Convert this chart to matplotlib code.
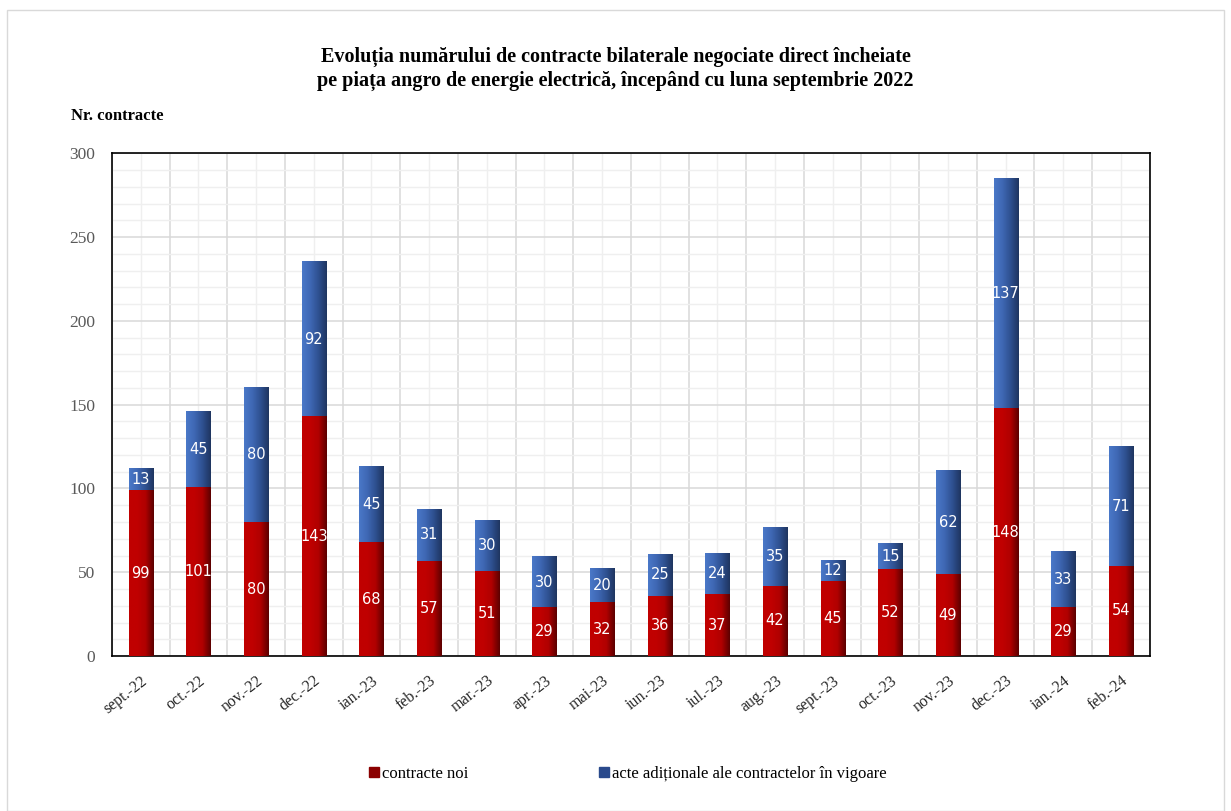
import numpy as np
import matplotlib.pyplot as plt
from matplotlib.colors import LinearSegmentedColormap
from matplotlib.patches import Rectangle
from matplotlib.ticker import MultipleLocator

months = ['sept.-22', 'oct.-22', 'nov.-22', 'dec.-22', 'ian.-23', 'feb.-23', 'mar.-23',
          'apr.-23', 'mai-23', 'iun.-23', 'iul.-23', 'aug.-23', 'sept.-23', 'oct.-23',
          'nov.-23', 'dec.-23', 'ian.-24', 'feb.-24']
noi = [99, 101, 80, 143, 68, 57, 51, 29, 32, 36, 37, 42, 45, 52, 49, 148, 29, 54]
acte = [13, 45, 80, 92, 45, 31, 30, 30, 20, 25, 24, 35, 12, 15, 62, 137, 33, 71]

serif = 'Liberation Serif'
red_cm = LinearSegmentedColormap.from_list('r', ['#c00000', '#c00000', '#b00000', '#5c0000'])
blue_cm = LinearSegmentedColormap.from_list('b', ['#4a78c8', '#3f68b4', '#2e5090', '#1f3560'])
grad = np.linspace(0, 1, 64).reshape(1, -1)

fig = plt.figure(figsize=(12.31, 8.11), dpi=100)
ax = fig.add_axes([0.091, 0.191, 0.843, 0.62])

x = np.arange(len(months))
w = 0.42
for i in x:
    # gradient-shaded bars
    ax.imshow(grad, cmap=red_cm, extent=[i - w/2, i + w/2, 0, noi[i]], aspect='auto', zorder=3)
    ax.imshow(grad, cmap=blue_cm, extent=[i - w/2, i + w/2, noi[i], noi[i] + acte[i]], aspect='auto', zorder=3)
    ax.text(i, noi[i] / 2, str(noi[i]), color='white', ha='center', va='center', fontsize=10.5, zorder=4)
    ax.text(i, noi[i] + acte[i] / 2, str(acte[i]), color='white', ha='center', va='center', fontsize=10.5, zorder=4)

ax.set_xlim(-0.5, len(months) - 0.5)
ax.set_ylim(0, 300)
ax.yaxis.set_major_locator(MultipleLocator(50))
ax.yaxis.set_minor_locator(MultipleLocator(10))
ax.set_xticks(x)
ax.set_xticks(np.arange(-0.5, len(months), 1), minor=True)
ax.grid(which='major', axis='y', color='#d9d9d9', lw=1.1, zorder=0)
ax.grid(which='minor', axis='y', color='#efefef', lw=1, zorder=0)
ax.grid(which='minor', axis='x', color='#d9d9d9', lw=1.1, zorder=0)
ax.grid(which='major', axis='x', color='#efefef', lw=1, zorder=0)
ax.tick_params(which='both', length=0)
ax.set_xticklabels(months, rotation=38, ha='right', rotation_mode='anchor',
                   fontfamily=serif, fontsize=11.5, color='#262626')
ax.tick_params(axis='x', pad=12)
for t in ax.get_yticklabels():
    t.set_fontfamily(serif)
    t.set_fontsize(12.5)
    t.set_color('#595959')
ax.tick_params(axis='y', pad=12)
for s in ax.spines.values():
    s.set_color('black')
    s.set_linewidth(1.2)

fig.text(0.5, 0.915, 'Evoluția numărului de contracte bilaterale negociate direct încheiate\n'
         'pe piața angro de energie electrică, începând cu luna septembrie 2022',
         ha='center', va='center', fontfamily=serif, fontweight='bold', fontsize=14.5, linespacing=1.2)
fig.text(0.058, 0.857, 'Nr. contracte', fontfamily=serif, fontweight='bold', fontsize=12, va='center')

handles = [Rectangle((0, 0), 1, 1, color='#8b0000'), Rectangle((0, 0), 1, 1, color='#2a4a8c')]
fig.legend(handles, ['contracte noi', 'acte adiționale ale contractelor în vigoare'],
           loc='center', bbox_to_anchor=(0.51, 0.046), ncol=2, frameon=False,
           prop={'family': serif, 'size': 12}, handlelength=0.6, handleheight=0.6,
           handletextpad=0.2, columnspacing=7.8)

fig.patches.append(Rectangle((0.006, 0.0), 0.988, 0.988, transform=fig.transFigure,
                             fill=False, edgecolor='#d9d9d9', lw=1))

fig.savefig('out.png', dpi=100)
